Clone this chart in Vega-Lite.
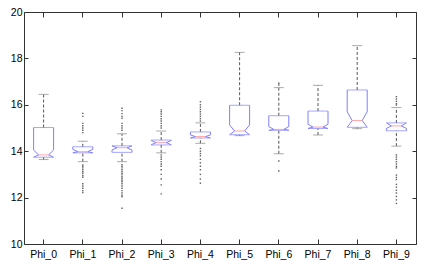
{
  "$schema": "https://vega.github.io/schema/vega-lite/v6.json",
  "width": 392,
  "height": 232,
  "autosize": {"type": "none"},
  "padding": {"left": 24, "top": 12, "right": 13, "bottom": 29},
  "background": "white",
  "config": {
    "view": {"stroke": "#333", "strokeWidth": 1},
    "font": "Liberation Sans",
    "axis": {"grid": false, "domain": false, "labelFont": "Liberation Sans", "labelFontSize": 10.5, "labelColor": "black", "tickColor": "#333"}
  },
  "datasets": {
    "boxes": [
      {"name": "Phi_0", "lo": 13.64, "q1": 13.74, "nlo": 13.74, "med": 13.84, "nhi": 14.05, "q3": 15.02, "hi": 16.45},
      {"name": "Phi_1", "lo": 13.55, "q1": 13.93, "nlo": 13.93, "med": 13.98, "nhi": 14.08, "q3": 14.19, "hi": 14.43},
      {"name": "Phi_2", "lo": 13.55, "q1": 13.95, "nlo": 14.05, "med": 14.15, "nhi": 14.23, "q3": 14.23, "hi": 14.75},
      {"name": "Phi_3", "lo": 13.93, "q1": 14.27, "nlo": 14.28, "med": 14.37, "nhi": 14.46, "q3": 14.48, "hi": 14.87},
      {"name": "Phi_4", "lo": 14.34, "q1": 14.57, "nlo": 14.57, "med": 14.63, "nhi": 14.70, "q3": 14.83, "hi": 15.22},
      {"name": "Phi_5", "lo": 14.67, "q1": 14.71, "nlo": 14.71, "med": 14.87, "nhi": 15.13, "q3": 15.98, "hi": 18.26},
      {"name": "Phi_6", "lo": 13.89, "q1": 14.90, "nlo": 14.90, "med": 14.94, "nhi": 15.06, "q3": 15.53, "hi": 16.74},
      {"name": "Phi_7", "lo": 14.70, "q1": 14.98, "nlo": 14.98, "med": 15.04, "nhi": 15.16, "q3": 15.73, "hi": 16.84},
      {"name": "Phi_8", "lo": 14.97, "q1": 15.03, "nlo": 15.03, "med": 15.32, "nhi": 15.70, "q3": 16.64, "hi": 18.55},
      {"name": "Phi_9", "lo": 14.22, "q1": 14.88, "nlo": 14.98, "med": 15.09, "nhi": 15.22, "q3": 15.22, "hi": 15.88}
    ],
    "outliers": [
      {"name": "Phi_1", "v": 15.63}, {"name": "Phi_1", "v": 15.5}, {"name": "Phi_1", "v": 15.2}, {"name": "Phi_1", "v": 15.1}, {"name": "Phi_1", "v": 15.0}, {"name": "Phi_1", "v": 14.9}, {"name": "Phi_1", "v": 14.8},
      {"name": "Phi_1", "v": 13.41}, {"name": "Phi_1", "v": 13.35}, {"name": "Phi_1", "v": 13.28}, {"name": "Phi_1", "v": 13.2}, {"name": "Phi_1", "v": 13.12}, {"name": "Phi_1", "v": 13.05}, {"name": "Phi_1", "v": 12.95}, {"name": "Phi_1", "v": 12.88}, {"name": "Phi_1", "v": 12.6}, {"name": "Phi_1", "v": 12.5}, {"name": "Phi_1", "v": 12.4}, {"name": "Phi_1", "v": 12.3}, {"name": "Phi_1", "v": 12.22},
      {"name": "Phi_2", "v": 15.85}, {"name": "Phi_2", "v": 15.75}, {"name": "Phi_2", "v": 15.62}, {"name": "Phi_2", "v": 15.5}, {"name": "Phi_2", "v": 15.42}, {"name": "Phi_2", "v": 15.2}, {"name": "Phi_2", "v": 15.1}, {"name": "Phi_2", "v": 15.0}, {"name": "Phi_2", "v": 14.9},
      {"name": "Phi_2", "v": 13.42}, {"name": "Phi_2", "v": 13.35}, {"name": "Phi_2", "v": 13.28}, {"name": "Phi_2", "v": 13.2}, {"name": "Phi_2", "v": 13.12}, {"name": "Phi_2", "v": 13.05}, {"name": "Phi_2", "v": 12.98}, {"name": "Phi_2", "v": 12.9}, {"name": "Phi_2", "v": 12.82}, {"name": "Phi_2", "v": 12.75}, {"name": "Phi_2", "v": 12.68}, {"name": "Phi_2", "v": 12.6}, {"name": "Phi_2", "v": 12.5}, {"name": "Phi_2", "v": 12.4}, {"name": "Phi_2", "v": 12.3}, {"name": "Phi_2", "v": 12.2}, {"name": "Phi_2", "v": 12.1}, {"name": "Phi_2", "v": 12.04}, {"name": "Phi_2", "v": 11.54},
      {"name": "Phi_3", "v": 15.78}, {"name": "Phi_3", "v": 15.7}, {"name": "Phi_3", "v": 15.6}, {"name": "Phi_3", "v": 15.5}, {"name": "Phi_3", "v": 15.4}, {"name": "Phi_3", "v": 15.3}, {"name": "Phi_3", "v": 15.2}, {"name": "Phi_3", "v": 15.1}, {"name": "Phi_3", "v": 15.0},
      {"name": "Phi_3", "v": 13.84}, {"name": "Phi_3", "v": 13.75}, {"name": "Phi_3", "v": 13.65}, {"name": "Phi_3", "v": 13.55}, {"name": "Phi_3", "v": 13.45}, {"name": "Phi_3", "v": 13.35}, {"name": "Phi_3", "v": 13.2}, {"name": "Phi_3", "v": 13.0}, {"name": "Phi_3", "v": 12.8}, {"name": "Phi_3", "v": 12.55}, {"name": "Phi_3", "v": 12.16},
      {"name": "Phi_4", "v": 16.13}, {"name": "Phi_4", "v": 16.0}, {"name": "Phi_4", "v": 15.9}, {"name": "Phi_4", "v": 15.8}, {"name": "Phi_4", "v": 15.7}, {"name": "Phi_4", "v": 15.6}, {"name": "Phi_4", "v": 15.5}, {"name": "Phi_4", "v": 15.4}, {"name": "Phi_4", "v": 15.3},
      {"name": "Phi_4", "v": 14.12}, {"name": "Phi_4", "v": 14.0}, {"name": "Phi_4", "v": 13.9}, {"name": "Phi_4", "v": 13.8}, {"name": "Phi_4", "v": 13.65}, {"name": "Phi_4", "v": 13.5}, {"name": "Phi_4", "v": 13.35}, {"name": "Phi_4", "v": 13.2}, {"name": "Phi_4", "v": 13.0}, {"name": "Phi_4", "v": 12.8}, {"name": "Phi_4", "v": 12.62},
      {"name": "Phi_6", "v": 16.93}, {"name": "Phi_6", "v": 16.85}, {"name": "Phi_6", "v": 13.58}, {"name": "Phi_6", "v": 13.15},
      {"name": "Phi_9", "v": 16.35}, {"name": "Phi_9", "v": 16.25}, {"name": "Phi_9", "v": 16.15}, {"name": "Phi_9", "v": 16.05}, {"name": "Phi_9", "v": 15.99},
      {"name": "Phi_9", "v": 13.84}, {"name": "Phi_9", "v": 13.75}, {"name": "Phi_9", "v": 13.65}, {"name": "Phi_9", "v": 13.55}, {"name": "Phi_9", "v": 13.45}, {"name": "Phi_9", "v": 13.35}, {"name": "Phi_9", "v": 13.28}, {"name": "Phi_9", "v": 12.97}, {"name": "Phi_9", "v": 12.87}, {"name": "Phi_9", "v": 12.78}, {"name": "Phi_9", "v": 12.57}, {"name": "Phi_9", "v": 12.45}, {"name": "Phi_9", "v": 12.32}, {"name": "Phi_9", "v": 12.2}, {"name": "Phi_9", "v": 12.05}, {"name": "Phi_9", "v": 11.9}, {"name": "Phi_9", "v": 11.75}
    ]
  },
  "resolve": {"axis": {"x": "independent", "y": "independent"}},
  "layer": [
    {
      "data": {"name": "boxes"},
      "mark": {"type": "rule", "color": "#555", "strokeDash": [3, 2], "strokeWidth": 1},
      "encoding": {
        "x": {"field": "name", "type": "nominal", "bandPosition": 0.5,
              "scale": {"type": "band", "paddingInner": 0, "paddingOuter": 0, "domain": ["Phi_0","Phi_1","Phi_2","Phi_3","Phi_4","Phi_5","Phi_6","Phi_7","Phi_8","Phi_9"]},
              "axis": {"orient": "bottom", "title": null, "labelAngle": 0, "tickSize": -5, "labelPadding": 10, "bandPosition": 0.5}},
        "y": {"field": "q3", "type": "quantitative", "scale": {"domain": [10, 20], "nice": false, "zero": false},
              "axis": {"orient": "left", "title": null, "values": [10, 12, 14, 16, 18, 20], "tickSize": -4, "labelPadding": 6}},
        "y2": {"field": "hi"}
      }
    },
    {
      "data": {"name": "boxes"},
      "mark": {"type": "rule", "color": "#555", "strokeDash": [3, 2], "strokeWidth": 1},
      "encoding": {
        "x": {"field": "name", "type": "nominal", "bandPosition": 0.5,
              "axis": {"orient": "top", "title": null, "labels": false, "tickSize": -5, "bandPosition": 0.5}},
        "y": {"field": "lo", "type": "quantitative",
              "axis": {"orient": "right", "title": null, "labels": false, "values": [10, 12, 14, 16, 18, 20], "tickSize": -4}},
        "y2": {"field": "q1"}
      }
    },
    {
      "data": {"name": "boxes"},
      "mark": {"type": "tick", "color": "#888", "size": 10, "thickness": 1},
      "encoding": {"x": {"field": "name", "type": "nominal", "axis": null}, "y": {"field": "hi", "type": "quantitative", "axis": null}}
    },
    {
      "data": {"name": "boxes"},
      "mark": {"type": "tick", "color": "#888", "size": 10, "thickness": 1},
      "encoding": {"x": {"field": "name", "type": "nominal", "axis": null}, "y": {"field": "lo", "type": "quantitative", "axis": null}}
    },
    {
      "data": {"name": "outliers"},
      "mark": {"type": "point", "filled": true, "shape": "square", "size": 2, "color": "#444", "opacity": 0.85},
      "encoding": {"x": {"field": "name", "type": "nominal", "axis": null}, "y": {"field": "v", "type": "quantitative", "axis": null}}
    },
    {
      "data": {"name": "boxes"},
      "mark": {"type": "tick", "color": "#7f7fff", "size": 20, "thickness": 1},
      "encoding": {"x": {"field": "name", "type": "nominal", "axis": null}, "y": {"field": "q3", "type": "quantitative", "axis": null}}
    },
    {
      "data": {"name": "boxes"},
      "mark": {"type": "tick", "color": "#7f7fff", "size": 20, "thickness": 1},
      "encoding": {"x": {"field": "name", "type": "nominal", "axis": null}, "y": {"field": "q1", "type": "quantitative", "axis": null}}
    },
    {
      "data": {"name": "boxes"},
      "mark": {"type": "rule", "color": "#7f7fff", "strokeWidth": 1, "xOffset": -10},
      "encoding": {"x": {"field": "name", "type": "nominal", "bandPosition": 0.5, "axis": null}, "y": {"field": "q3", "type": "quantitative", "axis": null}, "y2": {"field": "nhi"}}
    },
    {
      "data": {"name": "boxes"},
      "mark": {"type": "rule", "color": "#7f7fff", "strokeWidth": 1, "xOffset": 10},
      "encoding": {"x": {"field": "name", "type": "nominal", "bandPosition": 0.5, "axis": null}, "y": {"field": "q3", "type": "quantitative", "axis": null}, "y2": {"field": "nhi"}}
    },
    {
      "data": {"name": "boxes"},
      "mark": {"type": "rule", "color": "#7f7fff", "strokeWidth": 1, "xOffset": -10},
      "encoding": {"x": {"field": "name", "type": "nominal", "bandPosition": 0.5, "axis": null}, "y": {"field": "q1", "type": "quantitative", "axis": null}, "y2": {"field": "nlo"}}
    },
    {
      "data": {"name": "boxes"},
      "mark": {"type": "rule", "color": "#7f7fff", "strokeWidth": 1, "xOffset": 10},
      "encoding": {"x": {"field": "name", "type": "nominal", "bandPosition": 0.5, "axis": null}, "y": {"field": "q1", "type": "quantitative", "axis": null}, "y2": {"field": "nlo"}}
    },
    {
      "data": {"name": "boxes"},
      "mark": {"type": "rule", "color": "#7f7fff", "strokeWidth": 1, "xOffset": -10, "x2Offset": -5},
      "encoding": {"x": {"field": "name", "type": "nominal", "bandPosition": 0.5, "axis": null}, "x2": {"field": "name", "bandPosition": 0.5}, "y": {"field": "nhi", "type": "quantitative", "axis": null}, "y2": {"field": "med"}}
    },
    {
      "data": {"name": "boxes"},
      "mark": {"type": "rule", "color": "#7f7fff", "strokeWidth": 1, "xOffset": 10, "x2Offset": 5},
      "encoding": {"x": {"field": "name", "type": "nominal", "bandPosition": 0.5, "axis": null}, "x2": {"field": "name", "bandPosition": 0.5}, "y": {"field": "nhi", "type": "quantitative", "axis": null}, "y2": {"field": "med"}}
    },
    {
      "data": {"name": "boxes"},
      "mark": {"type": "rule", "color": "#7f7fff", "strokeWidth": 1, "xOffset": -10, "x2Offset": -5},
      "encoding": {"x": {"field": "name", "type": "nominal", "bandPosition": 0.5, "axis": null}, "x2": {"field": "name", "bandPosition": 0.5}, "y": {"field": "nlo", "type": "quantitative", "axis": null}, "y2": {"field": "med"}}
    },
    {
      "data": {"name": "boxes"},
      "mark": {"type": "rule", "color": "#7f7fff", "strokeWidth": 1, "xOffset": 10, "x2Offset": 5},
      "encoding": {"x": {"field": "name", "type": "nominal", "bandPosition": 0.5, "axis": null}, "x2": {"field": "name", "bandPosition": 0.5}, "y": {"field": "nlo", "type": "quantitative", "axis": null}, "y2": {"field": "med"}}
    },
    {
      "data": {"name": "boxes"},
      "mark": {"type": "tick", "color": "#ff8080", "size": 10, "thickness": 1},
      "encoding": {"x": {"field": "name", "type": "nominal", "axis": null}, "y": {"field": "med", "type": "quantitative", "axis": null}}
    }
  ]
}
